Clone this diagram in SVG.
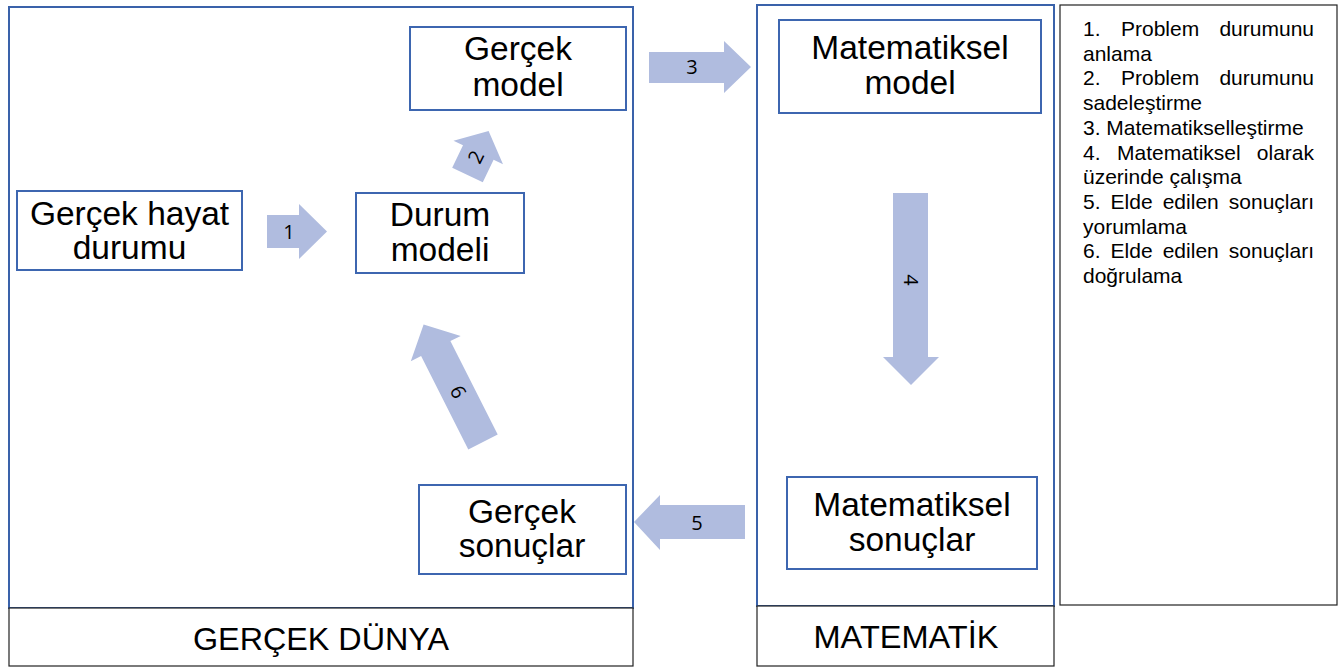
<svg xmlns="http://www.w3.org/2000/svg" width="1340" height="668" viewBox="0 0 1340 668">
<style>
.frame{fill:none;stroke:#3A62AA;stroke-width:2}
.node{fill:#fff;stroke:#3D66B0;stroke-width:2}
.lbl{fill:#fff;stroke:#222;stroke-width:1.2}
.t{font-family:"Liberation Sans",Arial,sans-serif;font-size:33.5px;fill:#000;text-anchor:middle}
.big{font-family:"Liberation Sans",Arial,sans-serif;font-size:31px;fill:#000;text-anchor:middle}
.leg{font-family:"Liberation Sans",Arial,sans-serif;font-size:21px;fill:#000}
.arr{fill:#B0BCDF}
.num{font-family:"Open Sans","Liberation Sans",sans-serif;font-size:20px;fill:#000;text-anchor:middle}
</style>
<rect width="1340" height="668" fill="#fff"/>
<g id="gercek-dunya">
<rect class="frame" x="9" y="7" width="624" height="601"/>
<rect class="lbl" x="9" y="608" width="624" height="58"/>
<text class="big" x="321" y="650" textLength="256" lengthAdjust="spacingAndGlyphs">GERÇEK DÜNYA</text>
</g>
<g id="matematik">
<rect class="frame" x="757" y="5" width="297" height="601"/>
<rect class="lbl" x="757" y="606" width="297" height="60"/>
<text class="big" x="906" y="648" textLength="185" lengthAdjust="spacingAndGlyphs">MATEMATİK</text>
</g>
<g id="legend">
<rect class="lbl" x="1060" y="5" width="277" height="600"/>
<text class="leg" x="1083" y="36">1.</text>
<text class="leg" x="1121" y="36">Problem</text>
<text class="leg" x="1314" y="36" text-anchor="end">durumunu</text>
<text class="leg" x="1083" y="60.7">anlama</text>
<text class="leg" x="1083" y="85.4">2.</text>
<text class="leg" x="1121" y="85.4">Problem</text>
<text class="leg" x="1314" y="85.4" text-anchor="end">durumunu</text>
<text class="leg" x="1083" y="110.1">sadeleştirme</text>
<text class="leg" x="1083" y="134.8">3. Matematikselleştirme</text>
<text class="leg" x="1083" y="159.5">4.</text>
<text class="leg" x="1117" y="159.5">Matematiksel</text>
<text class="leg" x="1314" y="159.5" text-anchor="end">olarak</text>
<text class="leg" x="1083" y="184.2">üzerinde çalışma</text>
<text class="leg" x="1083" y="208.9">5.</text>
<text class="leg" x="1110.6" y="208.9">Elde</text>
<text class="leg" x="1162.7" y="208.9">edilen</text>
<text class="leg" x="1314" y="208.9" text-anchor="end">sonuçları</text>
<text class="leg" x="1083" y="233.6">yorumlama</text>
<text class="leg" x="1083" y="258.3">6.</text>
<text class="leg" x="1110.6" y="258.3">Elde</text>
<text class="leg" x="1162.7" y="258.3">edilen</text>
<text class="leg" x="1314" y="258.3" text-anchor="end">sonuçları</text>
<text class="leg" x="1083" y="283">doğrulama</text>
</g>
<g id="n-gercek-hayat">
<rect class="node" x="17" y="191" width="225" height="79"/>
<text class="t" x="129.5" y="225">Gerçek hayat</text>
<text class="t" x="129.5" y="259">durumu</text>
</g>
<g id="n-durum-modeli">
<rect class="node" x="356" y="193" width="168" height="80"/>
<text class="t" x="440" y="226">Durum</text>
<text class="t" x="440" y="261">modeli</text>
</g>
<g id="n-gercek-model">
<rect class="node" x="410" y="27" width="216" height="83"/>
<text class="t" x="518" y="60">Gerçek</text>
<text class="t" x="518" y="96">model</text>
</g>
<g id="n-mat-model">
<rect class="node" x="779" y="20" width="262" height="93"/>
<text class="t" x="910" y="59">Matematiksel</text>
<text class="t" x="910" y="94">model</text>
</g>
<g id="n-mat-sonuclar">
<rect class="node" x="787" y="477" width="250" height="92"/>
<text class="t" x="912" y="516">Matematiksel</text>
<text class="t" x="912" y="551">sonuçlar</text>
</g>
<g id="n-gercek-sonuclar">
<rect class="node" x="419" y="485" width="207" height="89"/>
<text class="t" x="522" y="523">Gerçek</text>
<text class="t" x="522" y="557">sonuçlar</text>
</g>
<g id="connectors">
<polygon class="arr" points="267,215 299,215 299,204 327,231.5 299,259 299,248 267,248"/>
<text class="num" x="289" y="239">1</text>
<polygon class="arr" points="452.2,167.7 463,145.2 453.5,140.7 488.6,130.9 503,164.3 493.6,159.8 482.8,182.3"/>
<text class="num" transform="translate(476,157) rotate(-64)" x="0" y="7">2</text>
<polygon class="arr" points="649,52 724,52 724,41 751,67 724,93 724,83 649,83"/>
<text class="num" x="692" y="74">3</text>
<polygon class="arr" points="893,193 928,193 928,357 939,357 911,385 883,357 893,357"/>
<text class="num" transform="translate(911,280) rotate(90)" x="0" y="7">4</text>
<polygon class="arr" points="745,505 660,505 660,495 634,522 660,550 660,539 745,539"/>
<text class="num" x="697" y="530">5</text>
<polygon class="arr" points="468.3,449.4 421.1,356 410.8,361.2 423.6,324.5 460.7,336 450.4,341.1 497.7,434.6"/>
<text class="num" transform="translate(458,392) rotate(63)" x="0" y="7">6</text>
</g>
</svg>
